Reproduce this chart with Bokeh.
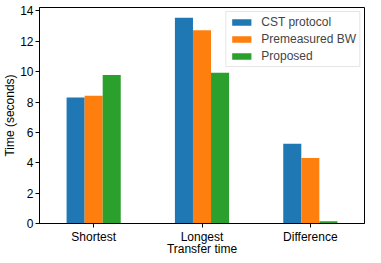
from bokeh.plotting import figure
from bokeh.models import ColumnDataSource, FixedTicker, Range1d, Legend, LegendItem
from bokeh.transform import dodge
from bokeh.embed import file_html
from bokeh.resources import INLINE

categories = ["Shortest", "Longest", "Difference"]
cst_protocol = [8.30, 13.55, 5.26]
premeasured_bw = [8.41, 12.73, 4.31]
proposed = [9.78, 9.93, 0.15]
series_names = ["CST protocol", "Premeasured BW", "Proposed"]
colors = ["#1f77b4", "#ff7f0e", "#2ca02c"]
y_ticks = [0, 2, 4, 6, 8, 10, 12, 14]

FONT = "Liberation Sans"

src = ColumnDataSource(dict(
    x=list(range(len(categories))),
    cst=cst_protocol,
    pre=premeasured_bw,
    prop=proposed,
))

p = figure(width=365, height=258, output_backend="svg", toolbar_location=None,
           x_range=Range1d(-0.5, 2.5), y_range=Range1d(0, 14.23),
           min_border_left=34, min_border_right=1, min_border_top=7, min_border_bottom=0)

bw = 0.5 / 3
keys = ["cst", "pre", "prop"]
renderers = []
for i, k in enumerate(keys):
    r = p.vbar(x=dodge("x", (i - 1) * bw, range=p.x_range), top=k, width=bw,
               source=src, fill_color=colors[i], line_color=None)
    renderers.append(r)

legend = Legend(items=[LegendItem(label=series_names[i], renderers=[renderers[i]]) for i in range(3)],
                location="top_right", label_text_font=FONT, label_text_font_size="12px",
                glyph_width=24, glyph_height=8, label_height=14, spacing=3,
                label_standoff=8, padding=3, margin=4,
                border_line_color="#cccccc", border_line_width=1,
                background_fill_alpha=0.8)
p.add_layout(legend)

p.xgrid.visible = False
p.ygrid.visible = False
p.outline_line_color = "black"
p.outline_line_width = 1

p.xaxis.ticker = FixedTicker(ticks=list(range(len(categories))))
p.xaxis.major_label_overrides = {i: c for i, c in enumerate(categories)}
p.yaxis.ticker = FixedTicker(ticks=y_ticks)
p.xaxis.axis_label = "Transfer time"
p.yaxis.axis_label = "Time (seconds)"

for ax in (p.xaxis[0], p.yaxis[0]):
    ax.axis_line_color = "black"
    ax.major_tick_line_color = "black"
    ax.minor_tick_line_color = None
    ax.major_tick_in = 0
    ax.major_tick_out = 4
    ax.major_label_standoff = 2
    ax.major_label_text_font = FONT
    ax.major_label_text_font_size = "12px"
    ax.major_label_text_color = "black"
    ax.axis_label_text_font = FONT
    ax.axis_label_text_font_size = "12px"
    ax.axis_label_text_font_style = "normal"
    ax.axis_label_text_color = "black"
p.xaxis.axis_label_standoff = -5
p.yaxis.axis_label_standoff = 0

open("out.html", "w").write(file_html(p, INLINE))
